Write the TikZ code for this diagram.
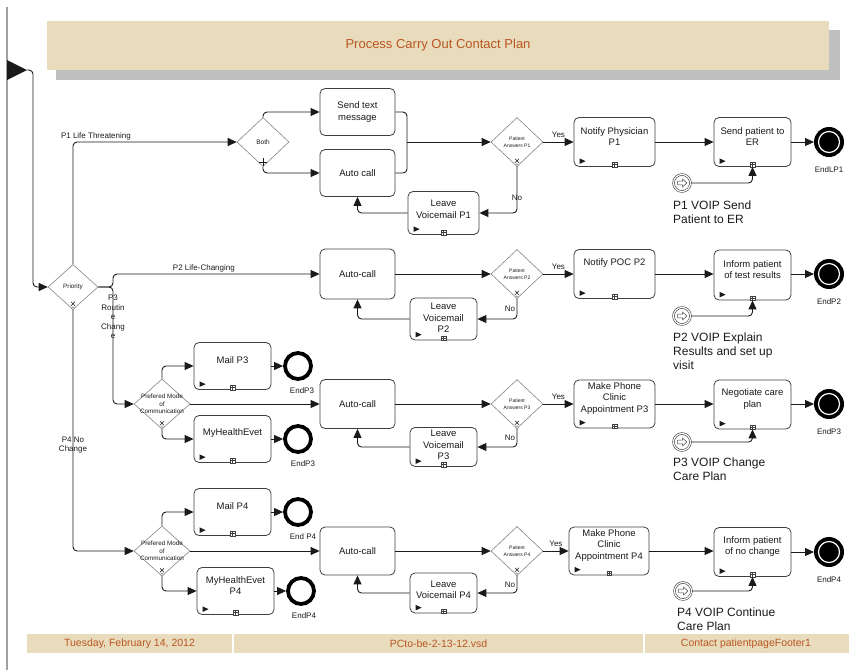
\documentclass[tikz,border=0pt]{standalone}
\usepackage{fontspec}
\setmainfont{Liberation Sans}
\usetikzlibrary{arrows.meta, positioning, shapes.geometric, calc}
\definecolor{wire}{HTML}{1A1A1A}
\definecolor{task-border}{HTML}{404040}
\definecolor{gate-border}{HTML}{858585}
\definecolor{band-tan}{HTML}{E8DCBC}
\definecolor{band-shadow}{HTML}{C0C0C0}
\definecolor{title-rust}{HTML}{BA5622}
\definecolor{pool-line}{HTML}{A0A0A0}
\tikzset{
  wire/.style={draw=wire, line width=0.9pt, rounded corners=4pt},
  flow/.style={wire, -{Triangle[length=9pt, width=8pt]}},
  task/.style={draw=task-border, line width=0.8pt, rounded corners=5pt, fill=white,
    minimum width=77pt, minimum height=47pt, inner sep=0pt},
  task-text/.style={align=center, font=\fontsize{9.5}{11.5}\selectfont, text=wire},
  % text lifted above the task markers
  sub-text/.style={task-text, yshift=5.5pt},
  gateway/.style={diamond, draw=gate-border, line width=0.6pt, fill=white,
    minimum width=52pt, minimum height=49pt, inner sep=0pt},
  gate-text/.style={align=center, font=\fontsize{5}{6.5}\selectfont, text=wire},
  flow-label/.style={font=\fontsize{8}{9.5}\selectfont, inner sep=1.5pt, text=wire},
  end-plain/.style={circle, draw=black, line width=3.8pt, fill=white, minimum size=26pt, inner sep=0pt},
  end-term/.style={circle, draw=black, line width=3pt, fill=black, minimum size=27pt, inner sep=0pt},
  end-text/.style={font=\fontsize{8}{9.5}\selectfont, text=wire},
  catch-event/.style={circle, draw=task-border, double=white, double distance=1.2pt,
    line width=0.6pt, minimum size=17pt, inner sep=0pt, fill=white},
  voip-text/.style={align=left, font=\fontsize{12}{14}\selectfont, anchor=north west, inner sep=0pt, text=wire},
  title-text/.style={font=\fontsize{13}{15}\selectfont, text=title-rust},
  footer-text/.style={font=\fontsize{10.5}{12}\selectfont, text=title-rust}
}

\begin{document}
\begin{tikzpicture}[x=1pt, y=-1pt]
  \useasboundingbox (0,0) rectangle (864,670);

  % ---- Pool border and start ---------------------------------------------
  \draw[pool-line, line width=1.2pt] (7,7) -- (7,670);
  \fill[fill=wire] (7,60) -- (27,70) -- (7,80) -- cycle;
  \coordinate (start) at (27,70);

  % ---- Header band ---------------------------------------------------------
  \fill[band-shadow] (56,30) rectangle (840,80);
  \fill[band-tan] (47,21) rectangle (829,70);
  \node[title-text] (title) at (438,45) {Process Carry Out Contact Plan};

  % ---- Gateways ------------------------------------------------------------
  \node[gateway, minimum width=50pt, minimum height=45pt,
        label={[gate-text, font=\fontsize{6.3}{7}\selectfont]center:Priority}] (prio) at (73,287) {};
  \node[gateway, label={[gate-text, font=\fontsize{6.5}{7}\selectfont]center:Both}] (both) at (263,142) {};
  \node[gateway, label={[gate-text]center:{Patient\\Answers P1}}] (pa1) at (517,142) {};
  \node[gateway, label={[gate-text]center:{Patient\\Answers P2}}] (pa2) at (517,274) {};
  \node[gateway, label={[gate-text]center:{Patient\\Answers P3}}] (pa3) at (517,404) {};
  \node[gateway, label={[gate-text]center:{Patient\\Answers P4}}] (pa4) at (517,551) {};
  \node[gateway, minimum width=56pt, minimum height=50pt,
        label={[gate-text, font=\fontsize{6.3}{7.5}\selectfont]center:{Prefered Mode\\of\\Communication}}] (pm3) at (162,404) {};
  \node[gateway, minimum width=56pt, minimum height=50pt,
        label={[gate-text, font=\fontsize{6.3}{7.5}\selectfont]center:{Prefered Mode\\of\\Communication}}] (pm4) at (162,551) {};

  % ---- Tasks: P1 -------------------------------------------------------------
  \node[task, minimum width=75pt, label={[task-text]center:{Send text\\message}}] (sendtext) at (357.5,112) {};
  \node[task, minimum width=75pt, label={[task-text]center:Auto call}] (call1) at (357.5,173) {};
  \node[task, minimum width=81pt, minimum height=49pt, label={[sub-text]center:{Notify Physician\\P1}}] (notify1) at (614.5,142) {};
  \node[task, minimum height=49pt, label={[sub-text]center:{Send patient to\\ER}}] (er1) at (752.5,142) {};
  \node[task, minimum width=71pt, minimum height=43pt, label={[sub-text, yshift=-2pt]center:{Leave\\Voicemail P1}}] (voice1) at (443.5,213) {};

  % ---- Tasks: P2 -------------------------------------------------------------
  \node[task, minimum width=75pt, minimum height=50pt, label={[task-text]center:Auto-call}] (call2) at (357.5,274) {};
  \node[task, minimum width=81pt, minimum height=49pt, label={[sub-text, yshift=5pt]center:Notify POC P2}] (notify2) at (614.5,274) {};
  \node[task, minimum height=50pt, label={[sub-text]center:{Inform patient\\of test results}}] (inform2) at (752.5,275) {};
  \node[task, minimum width=67pt, minimum height=42pt, label={[sub-text, yshift=-4.5pt]center:{Leave\\Voicemail\\P2}}] (voice2) at (443.5,319) {};

  % ---- Tasks: P3 -------------------------------------------------------------
  \node[task, label={[sub-text]center:Mail P3}] (mail3) at (232.5,366) {};
  \node[task, label={[sub-text]center:MyHealthEvet}] (health3) at (232.5,439) {};
  \node[task, minimum width=75pt, minimum height=49pt, label={[task-text]center:Auto-call}] (call3) at (357.5,404) {};
  \node[task, minimum width=81pt, minimum height=48pt, label={[sub-text]center:{Make Phone\\Clinic\\Appointment P3}}] (clinic3) at (614.5,404) {};
  \node[task, minimum height=49pt, label={[sub-text]center:{Negotiate care\\plan}}] (plan3) at (752.5,404.5) {};
  \node[task, minimum width=67pt, minimum height=39pt, label={[sub-text, yshift=-3.5pt]center:{Leave\\Voicemail\\P3}}] (voice3) at (443.5,447) {};

  % ---- Tasks: P4 -------------------------------------------------------------
  \node[task, label={[sub-text]center:Mail P4}] (mail4) at (232.5,512) {};
  \node[task, label={[sub-text]center:{MyHealthEvet\\P4}}] (health4) at (235.5,591) {};
  \node[task, minimum width=75pt, minimum height=48pt, label={[task-text]center:Auto-call}] (call4) at (357.5,551) {};
  \node[task, minimum width=80pt, minimum height=48pt, label={[sub-text]center:{Make Phone\\Clinic\\Appointment P4}}] (clinic4) at (609,551) {};
  \node[task, minimum height=49pt, label={[sub-text]center:{Inform patient\\of no change}}] (inform4) at (752.5,552) {};
  \node[task, minimum width=67pt, minimum height=40pt, label={[sub-text, yshift=-2.5pt]center:{Leave\\Voicemail P4}}] (voice4) at (443.5,593) {};

  % ---- Task markers ----------------------------------------------------------
  \foreach \tsk in {notify1, er1, voice1, notify2, inform2, voice2, mail3, health3, clinic3,
                    plan3, voice3, mail4, health4, clinic4, inform4, voice4} {
    \fill[fill=wire] ($(\tsk.south west)+(6,-8.5)$) -- ++(6,2.75) -- ++(-6,2.75) -- cycle;
    \draw[task-border, line width=0.4pt, fill=white] ($(\tsk.south)+(-2.25,-4.5)$) rectangle ++(4.5,4.5);
    \draw[task-border, line width=0.4pt] ($(\tsk.south)+(0,-4.5)$) -- ++(0,4.5)
                                         ($(\tsk.south)+(-2.25,-2.25)$) -- ++(4.5,0);
  }

  % ---- Gateway markers -------------------------------------------------------
  \foreach \gw in {prio, pa1, pa2, pa3, pa4, pm3, pm4} {
    \draw[draw=wire, line width=0.5pt] ($(\gw.south)+(-2,-8)$) -- ++(4,4)
                                       ($(\gw.south)+(2,-8)$) -- ++(-4,4);
    \draw[gate-border, line width=0.5pt, fill=white] ($(\gw.south)+(0,-1.6)$) circle (1.5pt);
  }
  \draw[draw=wire, line width=0.6pt] ($(both.south)+(-4,-4.5)$) -- ++(8,0)
                                     ($(both.south)+(0,-8.5)$) -- ++(0,8);

  % ---- End events ------------------------------------------------------------
  \node[end-term, label={[end-text, label distance=6pt]below:EndLP1}] (endlp1) at (829,142) {};
  \node[end-term, label={[end-text, label distance=6pt]below:EndP2}] (endp2) at (829,274) {};
  \node[end-term, label={[end-text, label distance=6pt]below:EndP3}] (endp3) at (829,404) {};
  \node[end-term, label={[end-text, label distance=6pt]below:EndP4}] (endp4) at (829,552) {};
  \foreach \ev in {endlp1, endp2, endp3, endp4}
    \draw[white, line width=1.2pt] (\ev.center) circle (10.5pt);
  \node[end-plain, label={[end-text, label distance=3pt, xshift=4pt]below:EndP3}] (end3a) at (298,366) {};
  \node[end-plain, label={[end-text, label distance=3pt, xshift=5pt]below:EndP3}] (end3b) at (298,439) {};
  \node[end-plain, label={[end-text, label distance=3pt, xshift=5pt]below:End P4}] (end4a) at (298,512) {};
  \node[end-plain, label={[end-text, label distance=3pt, xshift=3pt]below:EndP4}] (end4b) at (301,591) {};

  % ---- VOIP catch events -----------------------------------------------------
  \node[catch-event] (voip1) at (682,183) {};
  \node[catch-event] (voip2) at (682,316) {};
  \node[catch-event] (voip3) at (682,442) {};
  \node[catch-event] (voip4) at (683,591) {};
  \foreach \vp in {voip1, voip2, voip3, voip4}
    \draw[task-border, line width=0.5pt, fill=white, shift={(\vp.center)}]
      (-4.5,-1.8) -- (0.5,-1.8) -- (0.5,-4) -- (4.8,0) -- (0.5,4) -- (0.5,1.8) -- (-4.5,1.8) -- cycle;
  \node[voip-text] (voiptext1) at (673,200.5) {P1 VOIP Send\\Patient to ER};
  \node[voip-text] (voiptext2) at (673,332.5) {P2 VOIP Explain\\Results and set up\\visit};
  \node[voip-text] (voiptext3) at (673,457.5) {P3 VOIP Change\\Care Plan};
  \node[voip-text] (voiptext4) at (677,607.5) {P4 VOIP Continue\\Care Plan};

  % ---- Priority branches -----------------------------------------------------
  \coordinate (split) at (113,287);
  \draw[flow] (start) -- ++(6,0) |- (prio.west);
  \draw[flow] (prio.north) |- node[flow-label, pos=0.57, above] {P1 Life Threatening} (both.west);
  \draw[flow] (prio.east) -- (split) |- node[flow-label, pos=0.72, above] {P2 Life-Changing} (call2.west);
  \draw[flow] (prio.east) -- (split) |- (pm3.west);
  \node[flow-label, align=center] (p3label) at (113,317) {P3\\Routin\\e\\Chang\\e};
  \draw[flow] (prio.south) |- node[flow-label, pos=0.28, align=center] {P4 No\\Change} (pm4.west);

  % ---- P1 flows --------------------------------------------------------------
  \coordinate (join1) at (407,142);
  \draw[flow] (both.north) |- (sendtext.west);
  \draw[flow] (both.south) |- (call1.west);
  \draw[wire] (sendtext.east) -| (join1);
  \draw[wire] (call1.east) -| (join1);
  \draw[flow] (join1) -- (pa1.west);
  \draw[flow] (pa1.east) -- node[flow-label, above, yshift=2pt] {Yes} (notify1.west);
  \draw[flow] (notify1.east) -- (er1.west);
  \draw[flow] (er1.east) -- (endlp1.west);
  \draw[flow] (pa1.south) |- node[flow-label, pos=0.33] {No} (voice1.east);
  \draw[flow] (voice1.west) -| (call1.south);
  \draw[flow] (voip1.east) -| (er1.south);

  % ---- P2 flows --------------------------------------------------------------
  \draw[flow] (call2.east) -- (pa2.west);
  \draw[flow] (pa2.east) -- node[flow-label, above, yshift=2pt] {Yes} (notify2.west);
  \draw[flow] (notify2.east) -- (notify2.east -| inform2.west);
  \draw[flow] (inform2.east |- endp2.west) -- (endp2.west);
  \draw[flow] (pa2.south) |- node[flow-label, pos=0.25, left] {No} (voice2.east);
  \draw[flow] (voice2.west) -| (call2.south);
  \draw[flow] (voip2.east) -| (inform2.south);

  % ---- P3 flows --------------------------------------------------------------
  \draw[flow] (pm3.north) |- (mail3.west);
  \draw[flow] (pm3.south) |- (health3.west);
  \draw[flow] (mail3.east) -- (end3a.west);
  \draw[flow] (health3.east) -- (end3b.west);
  \draw[flow] (pm3.east) -- (call3.west);
  \draw[flow] (call3.east) -- (pa3.west);
  \draw[flow] (pa3.east) -- node[flow-label, above, yshift=2pt] {Yes} (clinic3.west);
  \draw[flow] (clinic3.east) -- (clinic3.east -| plan3.west);
  \draw[flow] (plan3.east |- endp3.west) -- (endp3.west);
  \draw[flow] (pa3.south) |- node[flow-label, pos=0.25, left] {No} (voice3.east);
  \draw[flow] (voice3.west) -| (call3.south);
  \draw[flow] (voip3.east) -| (plan3.south);

  % ---- P4 flows --------------------------------------------------------------
  \draw[flow] (pm4.north) |- (mail4.west);
  \draw[flow] (pm4.south) |- (health4.west);
  \draw[flow] (mail4.east) -- (end4a.west);
  \draw[flow] (health4.east) -- (end4b.west);
  \draw[flow] (pm4.east) -- (call4.west);
  \draw[flow] (call4.east) -- (pa4.west);
  \draw[flow] (pa4.east) -- node[flow-label, above, yshift=2pt] {Yes} (clinic4.west);
  \draw[flow] (clinic4.east) -- (clinic4.east -| inform4.west);
  \draw[flow] (inform4.east |- endp4.west) -- (endp4.west);
  \draw[flow] (pa4.south) |- node[flow-label, pos=0.25, left] {No} (voice4.east);
  \draw[flow] (voice4.west) -| (call4.south);
  \draw[flow] (voip4.east) -| (inform4.south);

  % ---- Footer ----------------------------------------------------------------
  \fill[band-tan] (27,634) rectangle (232,653);
  \fill[band-tan] (234,634) rectangle (643,653);
  \fill[band-tan] (645,634) rectangle (849,653);
  \node[footer-text] (date) at (129.5,643.5) {Tuesday, February 14, 2012};
  \node[footer-text] (file) at (438.5,643.5) {PCto-be-2-13-12.vsd};
  \node[footer-text] (page) at (746,643.5) {Contact patientpageFooter1};

\end{tikzpicture}
\end{document}
